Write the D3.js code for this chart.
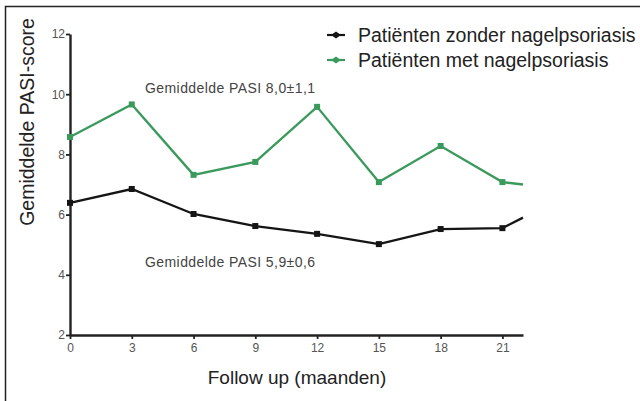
<!DOCTYPE html>
<html><head><meta charset="utf-8">
<script src="https://cdn.jsdelivr.net/npm/d3@7"></script>
<style>body{margin:0;background:#fff}svg{display:block}</style>
</head><body>
<svg id="c" width="640" height="401"></svg>
<script>
const months = [0, 3, 6, 9, 12, 15, 18, 21, 22];
const withNail = [8.58, 9.66, 7.32, 7.75, 9.58, 7.08, 8.28, 7.08, 7.0];
const withoutNail = [6.39, 6.85, 6.02, 5.62, 5.36, 5.02, 5.52, 5.55, 5.9];
const xTicks = [0, 3, 6, 9, 12, 15, 18, 21];
const yTicks = [2, 4, 6, 8, 10, 12];
const seriesNames = ["Patiënten zonder nagelpsoriasis", "Patiënten met nagelpsoriasis"];
const annotations = ["Gemiddelde PASI 8,0±1,1", "Gemiddelde PASI 5,9±0,6"];
const xTitle = "Follow up (maanden)";
const yTitle = "Gemiddelde PASI-score";

const svg = d3.select("#c");
const font = "'Liberation Sans', Arial, sans-serif";
const green = "#3a9a5c", black = "#151515";

// frame (left & top visible)
svg.append("path").attr("d","M5.5,401 V6.5 H640").attr("fill","none").attr("stroke","#222").attr("stroke-width",1.5);

const x = d3.scaleLinear().domain([0, 22]).range([70, 523]);
const y = d3.scaleLinear().domain([2, 12]).range([335, 34]);

const gx = svg.append("g").attr("transform","translate(0,335)")
  .call(d3.axisBottom(x).tickValues(xTicks).tickSize(4).tickSizeOuter(0));
const gy = svg.append("g").attr("transform","translate(70,0)")
  .call(d3.axisLeft(y).tickValues(yTicks).tickSize(4).tickSizeOuter(0));
[gx, gy].forEach(g => {
  g.select(".domain").attr("stroke","#222").attr("stroke-width",2.4);
  g.selectAll(".tick line").attr("stroke","#222").attr("stroke-width",1.8);
  g.selectAll(".tick text").attr("fill","#555").attr("font-family",font).attr("font-size",12);
});
gy.selectAll(".tick text").attr("x",-5);
gx.selectAll(".tick text").attr("y",8);

const line = d3.line().x((d,i)=>x(months[i])).y(d=>y(d));
function drawSeries(vals, col){
  svg.append("path").datum(vals).attr("d",line).attr("fill","none").attr("stroke",col).attr("stroke-width",2.3);
  svg.selectAll(null).data(vals.slice(0,8)).enter().append("rect")
    .attr("x",(d,i)=>x(months[i])-3).attr("y",d=>y(d)-3).attr("width",6).attr("height",6).attr("fill",col);
}
drawSeries(withoutNail, black);
drawSeries(withNail, green);

// annotations
svg.append("text").attr("x",145).attr("y",93).text(annotations[0])
  .attr("font-family",font).attr("font-size",14).attr("fill","#444").attr("textLength",170);
svg.append("text").attr("x",145).attr("y",267).text(annotations[1])
  .attr("font-family",font).attr("font-size",14).attr("fill","#444").attr("textLength",170);

// axis titles
svg.append("text").attr("x",297).attr("y",384).attr("text-anchor","middle").text(xTitle)
  .attr("font-family",font).attr("font-size",19).attr("fill","#222");
svg.append("text").attr("transform","translate(34,122) rotate(-90)").attr("text-anchor","middle").text(yTitle)
  .attr("font-family",font).attr("font-size",19.5).attr("fill","#222");

// legend
const leg = [[seriesNames[0], black, 35],[seriesNames[1], green, 60]];
leg.forEach(([t,c,yy])=>{
  svg.append("line").attr("x1",327).attr("x2",345).attr("y1",yy).attr("y2",yy).attr("stroke",c).attr("stroke-width",2.2);
  svg.append("path").attr("d",`M${331},${yy} L${336},${yy-3.5} L${341},${yy} L${336},${yy+3.5}Z`).attr("fill",c);
  svg.append("text").attr("x",358).attr("y",yy+6.5).text(t)
    .attr("font-family",font).attr("font-size",19.5).attr("fill","#222");
});
</script>
</body></html>
